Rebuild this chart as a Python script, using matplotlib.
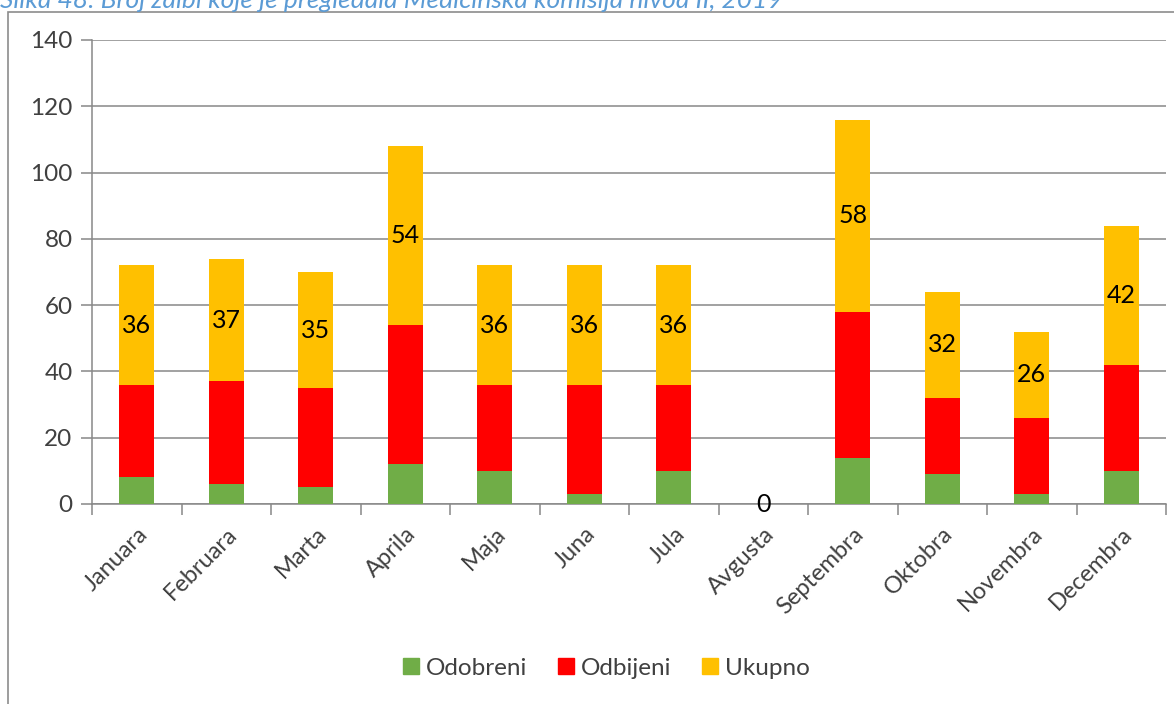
import matplotlib.pyplot as plt
from matplotlib.patches import Rectangle
from matplotlib.lines import Line2D
import numpy as np

plt.rcParams['font.family'] = ['Lato', 'DejaVu Sans']

MONTHS = ['Januara', 'Februara', 'Marta', 'Aprila', 'Maja', 'Juna', 'Jula',
          'Avgusta', 'Septembra', 'Oktobra', 'Novembra', 'Decembra']
ODOBRENI = [8, 6, 5, 12, 10, 3, 10, 0, 14, 9, 3, 10]
ODBIJENI = [28, 31, 30, 42, 26, 33, 26, 0, 44, 23, 23, 32]
UKUPNO = [36, 37, 35, 54, 36, 36, 36, 0, 58, 32, 26, 42]

GREEN = '#70AD47'
RED = '#FF0000'
YELLOW = '#FFC000'
GRID = '#888888'
TEXT = '#404040'

fig = plt.figure(figsize=(11.74, 7.04), dpi=100)
W, H = 1174, 704

# chart border (cut by figure edges)
fig.patches.append(Rectangle((8 / W, -0.05), 1.1, (H - 12) / H + 0.05,
                             transform=fig.transFigure, fill=False,
                             edgecolor='#8c8c8c', linewidth=1.2))

fig.text(0, 1.0, 'Slika 48: Broj žalbi koje je pregledala Medicinska komisija nivoa II, 2019',
         color='#5B9BD5', fontsize=19, style='italic', ha='left', va='center')

ax = fig.add_axes([92 / W, 200 / H, (1166 - 92) / W, 464 / H])

x = np.arange(len(MONTHS))
bw = 0.39
bottom2 = np.array(ODOBRENI)
bottom3 = bottom2 + np.array(ODBIJENI)
ax.bar(x, ODOBRENI, bw, color=GREEN, zorder=3)
ax.bar(x, ODBIJENI, bw, bottom=bottom2, color=RED, zorder=3)
ax.bar(x, UKUPNO, bw, bottom=bottom3, color=YELLOW, zorder=3)

for xi, b, v in zip(x, bottom3, UKUPNO):
    ax.text(xi, b + v / 2, str(v), ha='center', va='center',
            fontsize=18, color='black', zorder=4)

ax.set_xlim(-0.5, len(MONTHS) - 0.5)
ax.set_ylim(0, 140)
ax.set_yticks(range(0, 141, 20))
ax.grid(axis='y', color=GRID, linewidth=1.1, zorder=0)
for s in ['top', 'right']:
    ax.spines[s].set_visible(False)
ax.spines['left'].set_color(GRID)
ax.spines['bottom'].set_color(GRID)
ax.spines['left'].set_linewidth(1.1)
ax.spines['bottom'].set_linewidth(1.1)

ax.tick_params(axis='y', colors=GRID, length=8, width=1.1, labelcolor=TEXT,
               labelsize=17.5, pad=6)
ax.set_xticks(np.arange(-0.5, len(MONTHS), 1.0))
ax.set_xticklabels([])
ax.tick_params(axis='x', colors=GRID, length=8, width=1.1)
ax.set_xticks(x, minor=True)
ax.set_xticklabels(MONTHS, minor=True, rotation=45, ha='right',
                   rotation_mode='anchor', fontsize=17, color=TEXT)
ax.tick_params(axis='x', which='minor', length=0, pad=14)

handles = [Line2D([], [], marker='s', linestyle='', markersize=12,
                  markerfacecolor=c, markeredgecolor=c)
           for c in (GREEN, RED, YELLOW)]
fig.legend(handles, ['Odobreni', 'Odbijeni', 'Ukupno'], loc='center',
           bbox_to_anchor=(603 / W, (H - 668) / H), ncol=3, frameon=False,
           fontsize=17.5, labelcolor=TEXT, handletextpad=0.0, columnspacing=1.0,
           handlelength=1.2)

fig.savefig('out.png', dpi=100)
